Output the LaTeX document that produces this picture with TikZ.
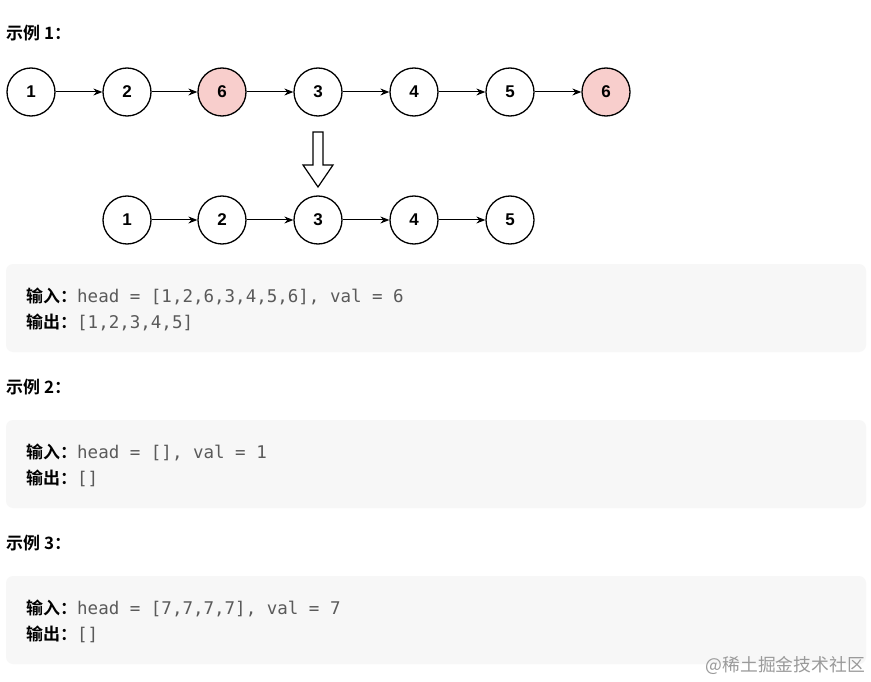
\documentclass[tikz,border=0pt]{standalone}
\usepackage{fontspec}
\setmainfont{Liberation Sans}
\newfontfamily\cjk{Noto Sans CJK SC}
\newfontfamily\cjkb{Noto Sans CJK SC Bold}
\newfontfamily\monof{DejaVu Sans Mono}
\usetikzlibrary{arrows.meta}
\definecolor{boxbg}{HTML}{F7F7F7}
\definecolor{pinkf}{HTML}{F8CECC}
\definecolor{codegray}{HTML}{5A5A5A}
\definecolor{wm}{HTML}{9A9A9A}
\tikzset{
  lnode/.style={circle,draw=black,line width=1.3pt,minimum size=48pt,inner sep=0pt,fill=white,font=\fontsize{17}{17}\selectfont\bfseries},
  hl/.style={fill=pinkf},
  link/.style={-{Stealth[length=9pt,width=7pt]},line width=1pt},
  codebox/.style={fill=boxbg,draw=none,rounded corners=7pt},
  heading/.style={anchor=west,inner sep=0pt,font=\cjkb\fontsize{17}{17}\selectfont},
  codeline/.style={anchor=west,inner sep=0pt},
}
\newcommand{\lbl}[1]{{\cjkb\fontsize{17}{17}\selectfont #1}}
\newcommand{\cde}[1]{{\monof\fontsize{17.5}{17.5}\selectfont\color{codegray}#1}}
\begin{document}
\begin{tikzpicture}[x=1pt,y=-1pt]
\useasboundingbox (0,0) rectangle (871,682);
\fill[white] (0,0) rectangle (871,682);
% headings
\node[heading] (h1) at (6,33) {示例 1：};
\node[heading] (h2) at (6,387) {示例 2：};
\node[heading] (h3) at (6,543) {示例 3：};
% top list
\node[lnode] (a1) at (31,92) {1};
\node[lnode] (a2) at (127,92) {2};
\node[lnode,hl] (a3) at (222,92) {6};
\node[lnode] (a4) at (318,92) {3};
\node[lnode] (a5) at (414,92) {4};
\node[lnode] (a6) at (510,92) {5};
\node[lnode,hl] (a7) at (606,92) {6};
\foreach \i/\j in {a1/a2,a2/a3,a3/a4,a4/a5,a5/a6,a6/a7} \draw[link] (\i) -- (\j);
% bottom list
\node[lnode] (b1) at (127,220) {1};
\node[lnode] (b2) at (222,220) {2};
\node[lnode] (b3) at (318,220) {3};
\node[lnode] (b4) at (414,220) {4};
\node[lnode] (b5) at (510,220) {5};
\foreach \i/\j in {b1/b2,b2/b3,b3/b4,b4/b5} \draw[link] (\i) -- (\j);
% hollow arrow
\draw[line width=1.2pt,fill=white,line join=miter] (313,132) -- (323,132) -- (323,165) -- (333,165) -- (318,187) -- (303,165) -- (313,165) -- cycle;
% boxes
\fill[codebox] (6,264) rectangle (866,352);
\fill[codebox] (6,420) rectangle (866,508);
\fill[codebox] (6,576) rectangle (866,664);
\node[codeline] (l1) at (26,296) {\lbl{输入：}\cde{head = [1,2,6,3,4,5,6], val = 6}};
\node[codeline] (l2) at (26,322) {\lbl{输出：}\cde{[1,2,3,4,5]}};
\node[codeline] (l3) at (26,452) {\lbl{输入：}\cde{head = [], val = 1}};
\node[codeline] (l4) at (26,478) {\lbl{输出：}\cde{[]}};
\node[codeline] (l5) at (26,608) {\lbl{输入：}\cde{head = [7,7,7,7], val = 7}};
\node[codeline] (l6) at (26,634) {\lbl{输出：}\cde{[]}};
% watermark
\node[anchor=east,inner sep=0pt,text=wm,font=\cjk\fontsize{17.8}{17.8}\selectfont] (wmk) at (865,665) {@稀土掘金技术社区};
\end{tikzpicture}
\end{document}
